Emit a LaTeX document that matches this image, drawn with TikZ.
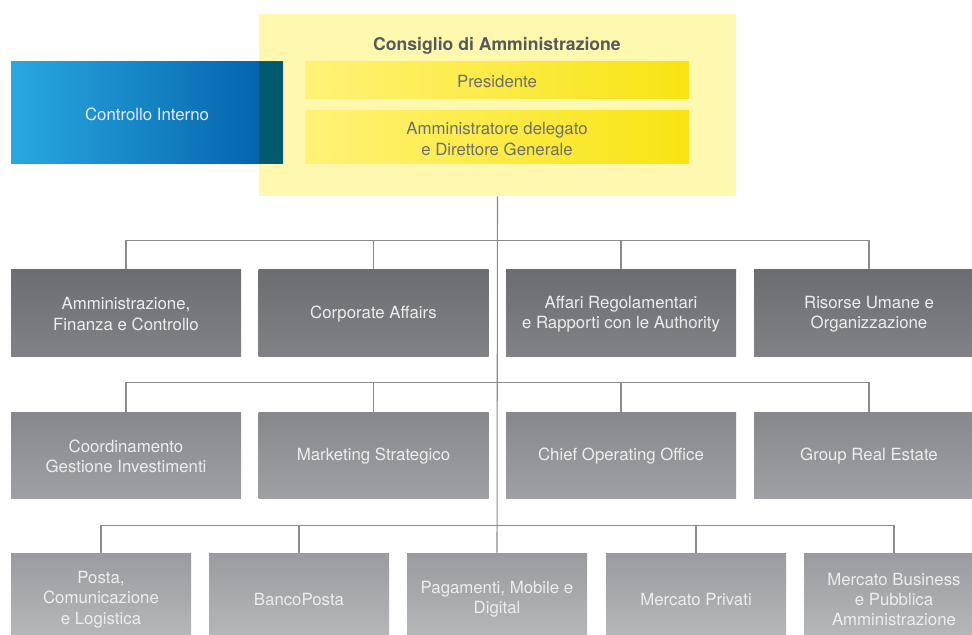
\documentclass[tikz,border=0pt]{standalone}
\usepackage{fontspec}
\setmainfont{TeX Gyre Heros}
\definecolor{cdabg}{HTML}{FFF8AE}
\definecolor{yelL}{HTML}{FFF277}
\definecolor{yelR}{HTML}{F8E412}
\definecolor{bluL}{HTML}{29A8E0}
\definecolor{bluR}{HTML}{005FA8}
\definecolor{teal}{HTML}{005B70}
\definecolor{darktxt}{HTML}{58595B}
\definecolor{midtxt}{HTML}{6D6E71}
\definecolor{g1t}{HTML}{6C6D70}
\definecolor{g1b}{HTML}{818285}
\definecolor{g2t}{HTML}{87888B}
\definecolor{g2b}{HTML}{9FA0A3}
\definecolor{g3t}{HTML}{9A9B9E}
\definecolor{g3b}{HTML}{B8B9BB}
\definecolor{linec}{HTML}{8A8B8D}
\definecolor{boxtxt}{HTML}{EDEDED}
\tikzset{
  base/.style={rectangle, inner sep=0pt, align=center, font=\fontsize{12.6}{15.2}\selectfont},
  gbox/.style={base, minimum width=230*0.75pt, minimum height=87*0.75pt, text=boxtxt},
  rowA/.style={gbox, top color=g1t, bottom color=g1b},
  rowB/.style={gbox, minimum height=86*0.75pt, top color=g2t, bottom color=g2b},
  rowC/.style={gbox, minimum width=180*0.75pt, minimum height=90*0.75pt, top color=g3t, bottom color=g3b},
  ybox/.style={base, minimum width=384*0.75pt, left color=yelL, right color=yelR, text=midtxt},
  conn/.style={draw=linec, line width=0.8pt}
}
\begin{document}
\begin{tikzpicture}[x=0.75pt,y=-0.75pt]
\useasboundingbox (0,0) rectangle (972,635);
\clip (0,0) rectangle (972,635);
% board background
\node[rectangle, inner sep=0pt, fill=cdabg, minimum width=477*0.75pt, minimum height=182*0.75pt] (cda) at (497.5,105) {};
\node[base, font=\fontsize{13.2}{15}\selectfont\bfseries, text=darktxt] (cdat) at (497,45.5) {Consiglio di Amministrazione};
% internal control
\node[base, minimum width=272*0.75pt, minimum height=102*0.75pt, left color=bluL, right color=bluR] (ci) at (147,113) {};
\fill[teal] (259,62) rectangle (283,164);
\node[base, text=white!92!blue] (cit) at (147,114.5) {Controllo Interno};
\node[ybox, minimum height=37*0.75pt] (pres) at (497,80.5) {};
\node[base, text=midtxt] (prest) at (497,82) {Presidente};
\node[ybox, minimum height=53*0.75pt] (ad) at (497,137.5) {};
\node[base, text=midtxt] (adt) at (497,139) {Amministratore delegato\\e Direttore Generale};
% row 1
\node[rowA] (a1) at (126,312.5) {};
\node[rowA] (a2) at (373.5,312.5) {};
\node[rowA] (a3) at (621,312.5) {};
\node[rowA] (a4) at (869,312.5) {};
\node[base, text=boxtxt] (a1t) at (126,314) {Amministrazione,\\Finanza e Controllo};
\node[base, text=boxtxt] (a2t) at (373.5,314) {Corporate Affairs};
\node[base, text=boxtxt] (a3t) at (621,314) {Affari Regolamentari\\e Rapporti con le Authority};
\node[base, text=boxtxt] (a4t) at (869,314) {Risorse Umane e\\Organizzazione};
% row 2
\node[rowB] (b1) at (126,455) {};
\node[rowB] (b2) at (373.5,455) {};
\node[rowB] (b3) at (621,455) {};
\node[rowB] (b4) at (869,455) {};
\node[base, text=boxtxt] (b1t) at (126,456.5) {Coordinamento\\Gestione Investimenti};
\node[base, text=boxtxt] (b2t) at (373.5,456.5) {Marketing Strategico};
\node[base, text=boxtxt] (b3t) at (621,456.5) {Chief Operating Office};
\node[base, text=boxtxt] (b4t) at (869,456.5) {Group Real Estate};
% row 3
\node[rowC] (c1) at (101,598) {};
\node[rowC] (c2) at (299,598) {};
\node[rowC] (c3) at (497,598) {};
\node[rowC] (c4) at (696,598) {};
\node[rowC] (c5) at (894,598) {};
\node[base, text=boxtxt] (c1t) at (101,599.5) {Posta,\\Comunicazione\\e Logistica};
\node[base, text=boxtxt] (c2t) at (299,599.5) {BancoPosta};
\node[base, text=boxtxt] (c3t) at (497,599.5) {Pagamenti, Mobile e\\Digital};
\node[base, text=boxtxt] (c4t) at (696,599.5) {Mercato Privati};
\node[base, text=boxtxt] (c5t) at (894,599.5) {Mercato Business\\e Pubblica\\Amministrazione};
% connectors
\draw[conn] (cda.south) -- (c3.north);
\draw[conn] (a1.north) -- ++(0,-28) -| (a4.north);
\draw[conn] (a2.north) -- ++(0,-28);
\draw[conn] (a3.north) -- ++(0,-28);
\draw[conn] (b1.north) -- ++(0,-29) -| (b4.north);
\draw[conn] (b2.north) -- ++(0,-29);
\draw[conn] (b3.north) -- ++(0,-29);
\draw[conn] (c1.north) -- ++(0,-27) -| (c5.north);
\draw[conn] (c2.north) -- ++(0,-27);
\draw[conn] (c4.north) -- ++(0,-27);
\end{tikzpicture}
\end{document}
